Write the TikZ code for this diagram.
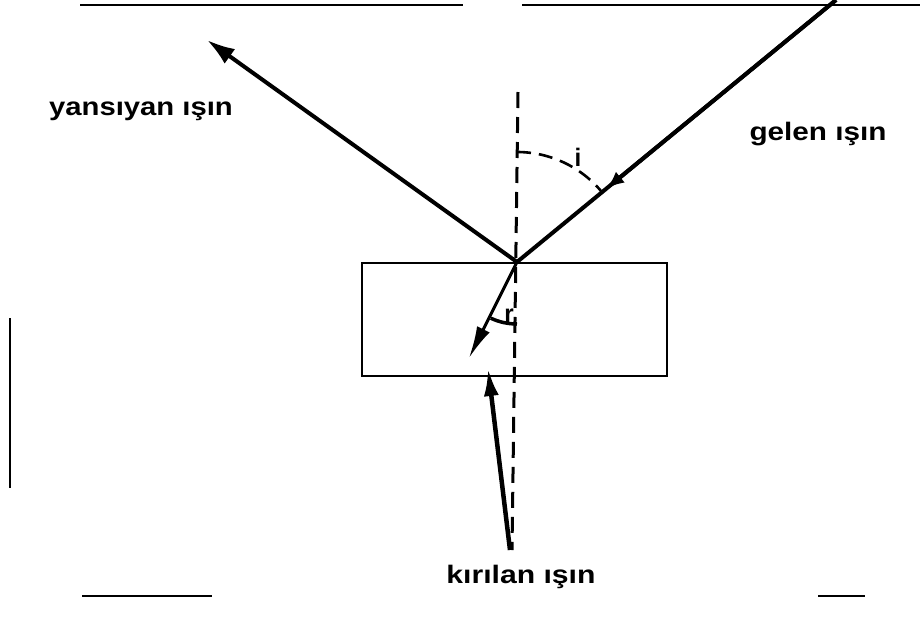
\documentclass[tikz,border=0pt]{standalone}
\usepackage{fontspec}
\setmainfont{Liberation Sans}
\usetikzlibrary{arrows.meta,calc}
\begin{document}
\begin{tikzpicture}[x=1pt,y=-1pt,
  ray/.style={line width=4pt},
  lbl/.style={font=\bfseries\fontsize{22}{26}\selectfont, inner sep=0pt},
  normalline/.style={line width=3pt, dash pattern=on 16pt off 9pt},
  scanline/.style={line width=2pt},
  blockbox/.style={draw, line width=2.5pt, minimum width=305pt, minimum height=113pt, inner sep=0pt}]
\useasboundingbox (0,0) rectangle (922,625);
% scan border fragments
\draw[scanline] (80,5) -- (463,5);
\draw[scanline] (522,5) -- (920,5);
\draw[scanline] (82,596) -- (212,596);
\draw[scanline] (818,596) -- (865,596);
\draw[scanline] (10,318) -- (10,488);
% glass block
\node[blockbox] (block) at (514.5,319.5) {};
% key points
\coordinate (O) at (517,262);
\coordinate (S) at (836,0);
\coordinate (R) at (207,40);
\coordinate (T) at (469,358);
\coordinate (N0) at (518,92);
\coordinate (N1) at (512,550);
\coordinate (P0) at (510,550);
\coordinate (P1) at (488,368);
% normal
\draw[normalline] (N0) -- (N1);
% incident ray with mid arrow
\draw[ray] (S) -- (O);
\draw[ray, -{Latex[length=18pt,width=14pt]}] (S) -- ($(S)!0.72!(O)$);
% reflected ray
\draw[ray, -{Latex[length=28pt,width=18pt]}] (O) -- (R);
% refracted ray
\draw[line width=3pt, -{Latex[length=32pt,width=14pt]}] (O) -- (T);
% angle arcs
\draw[line width=2.6pt, dash pattern=on 14pt off 8pt] ($(O)+(0,-110)$) arc[start angle=-90, end angle=-40, radius=110];
\draw[line width=3.5pt] ($(O)+(0,62)$) arc[start angle=90, end angle=115, radius=62];
% pointer arrow
\draw[line width=4.5pt, -{Latex[length=28pt,width=15pt]}] (P0) -- (P1);
% labels
\node[lbl] (refl) at (141,111) {\scalebox{1.33}[1.15]{yansıyan ışın}};
\node[lbl] (inc) at (818,134) {\scalebox{1.35}[1.15]{gelen ışın}};
\node[lbl] (refr) at (521,577) {\scalebox{1.37}[1.15]{kırılan ışın}};
\node[lbl] (ilbl) at (578,157) {\scalebox{1.1}[1.15]{i}};
\node[lbl] (rlbl) at (509,316) {\scalebox{1.1}[1.15]{r}};
\end{tikzpicture}
\end{document}
